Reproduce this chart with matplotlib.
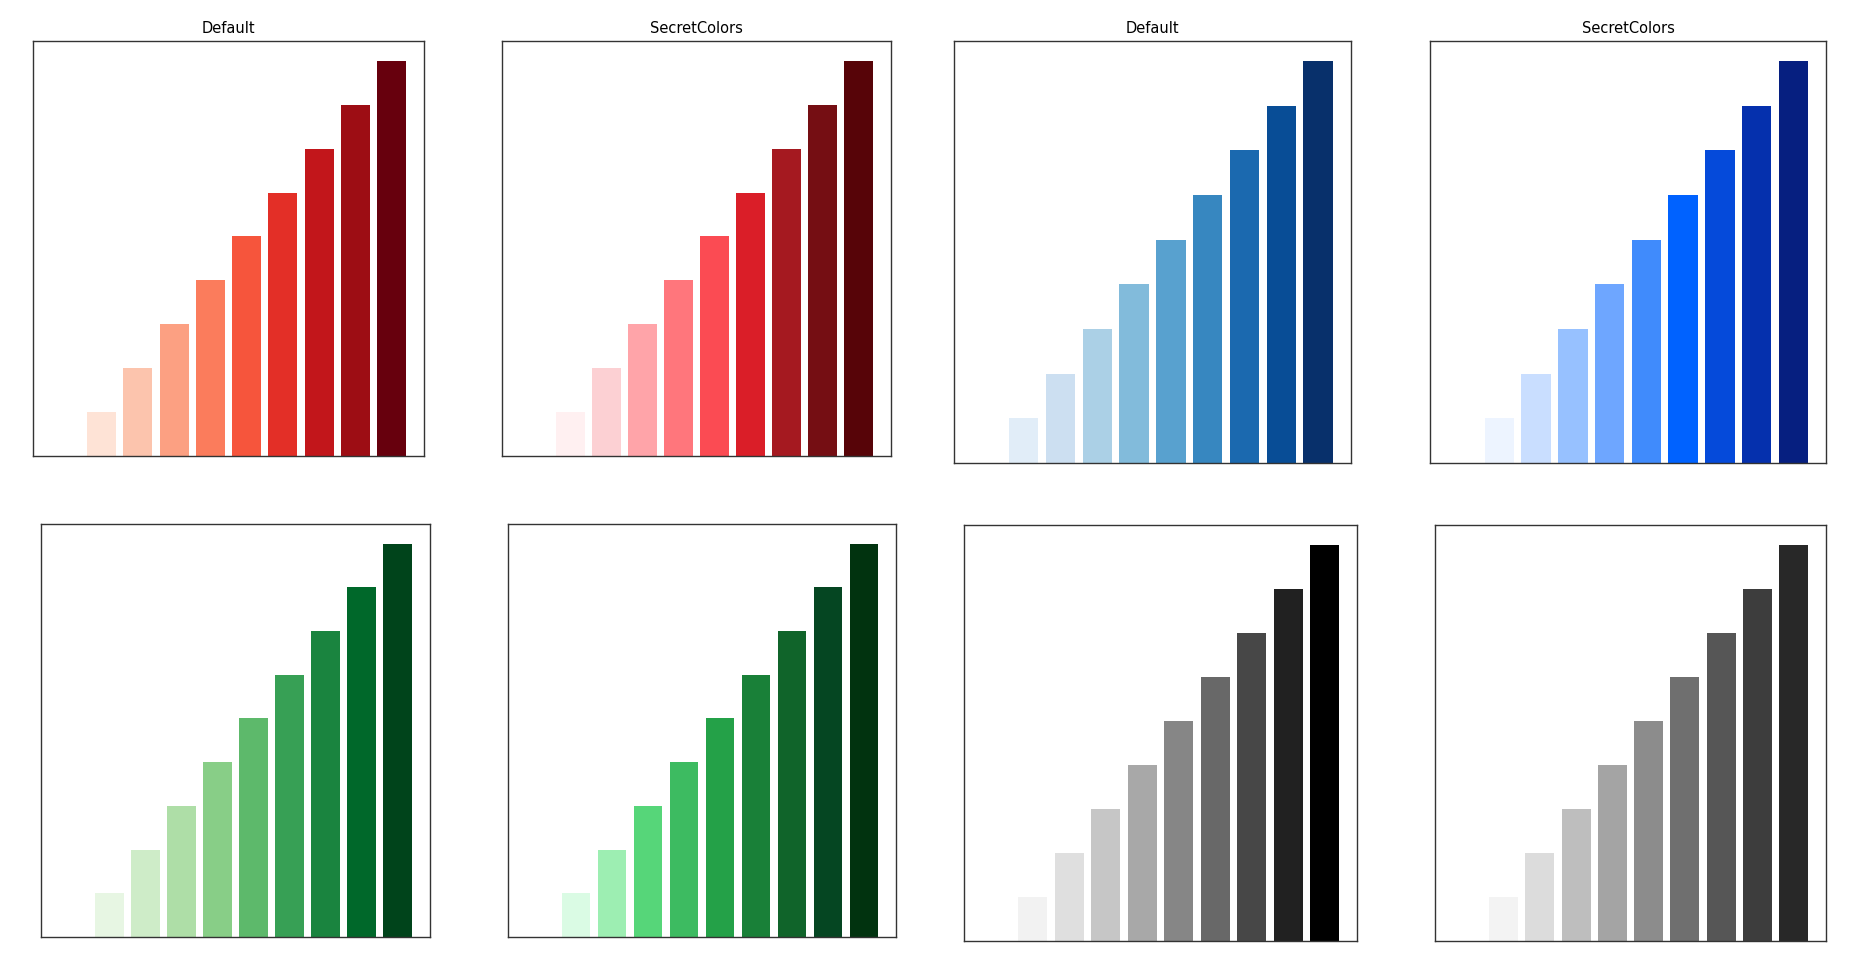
import numpy as np
import matplotlib
matplotlib.use("Agg")
import matplotlib.pyplot as plt

# Data
positions = [0, 1, 2, 3, 4, 5, 6, 7, 8, 9]
heights = [0, 1, 2, 3, 4, 5, 6, 7, 8, 9]

titles_top = ["Default", "SecretColors", "Default", "SecretColors"]

default_cmaps = ["Reds", "Blues", "Greens", "Greys"]

secret_red = ["#ffffff", "#fff0f1", "#fcd0d3", "#ffa4a9", "#ff767c", "#fb4b53",
              "#da1e28", "#a51920", "#750e13", "#570408"]
secret_blue = ["#ffffff", "#edf4ff", "#c9deff", "#97c1ff", "#6ea6ff", "#408bfc",
               "#0062ff", "#054ada", "#0530ad", "#061f80"]
secret_green = ["#ffffff", "#dafbe4", "#9deeb2", "#56d679", "#3dbb61", "#24a148",
                "#198038", "#10642a", "#054622", "#01330f"]
secret_gray = ["#ffffff", "#f3f3f3", "#dcdcdc", "#bebebe", "#a4a4a4", "#8c8c8c",
               "#6f6f6f", "#565656", "#3d3d3d", "#282828"]

W, H = 1856, 976
fig = plt.figure(figsize=(W / 100, H / 100), dpi=100)

def px_axes(x0, x1, y0, y1):
    return fig.add_axes([x0 / W, 1 - y1 / H, (x1 - x0) / W, (y1 - y0) / H])

# pixel boxes (left, right, top, bottom)
boxes = [
    (33, 424, 41, 456), (502, 891, 41, 456), (954, 1351, 41, 463), (1430, 1826, 41, 463),
    (41, 430, 524, 937), (508, 896, 524, 937), (964, 1357, 525, 941), (1435, 1826, 525, 941),
]

panels = [
    (default_cmaps[0], None, titles_top[0]),
    (None, secret_red, titles_top[1]),
    (default_cmaps[1], None, titles_top[2]),
    (None, secret_blue, titles_top[3]),
    (default_cmaps[2], None, None),
    (None, secret_green, None),
    (default_cmaps[3], None, None),
    (None, secret_gray, None),
]

for box, (cmap_name, palette, title) in zip(boxes, panels):
    ax = px_axes(*box)
    if cmap_name is not None:
        cols = plt.get_cmap(cmap_name)(np.linspace(0, 1, len(positions)))
    else:
        cols = palette
    ax.bar(positions, heights, color=cols, width=0.8)
    ax.set_xticks([])
    ax.set_yticks([])
    for s in ax.spines.values():
        s.set_linewidth(1.0)
        s.set_color("#333333")
    if title:
        ax.set_title(title, fontsize=10.5, pad=6)

fig.savefig("out.png", dpi=100)
